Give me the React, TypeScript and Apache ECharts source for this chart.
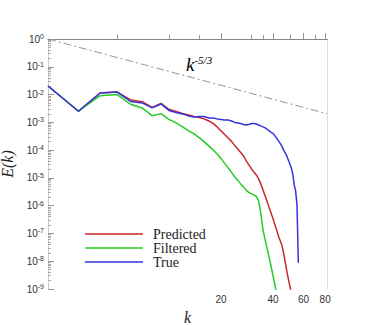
import React, { useEffect, useRef } from "react";
import * as echarts from "echarts";

const kValues = [2, 3, 4, 5, 6, 7, 8, 9, 10, 11, 12, 13, 14, 15, 16, 17, 18, 19, 20, 21, 22, 23, 24, 25, 26, 27, 28, 29, 30, 31, 32, 33, 34, 35, 36, 37, 38, 39, 40, 41, 42, 43, 44, 45, 46, 47, 48, 49, 50, 51, 52, 53, 54, 55, 56];

const trueE = [2.04e-2, 2.51e-3, 1.14e-2, 1.24e-2, 5.65e-3, 4.99e-3, 3.30e-3, 4.59e-3, 2.68e-3, 2.27e-3, 2.01e-3, 1.70e-3, 1.56e-3, 1.63e-3, 1.63e-3, 1.44e-3, 1.44e-3, 1.33e-3, 1.27e-3, 1.22e-3, 1.22e-3, 1.12e-3, 9.91e-4, 9.51e-4, 9.12e-4, 8.40e-4, 8.05e-4, 8.40e-4, 9.12e-4, 9.12e-4, 8.75e-4, 8.05e-4, 7.43e-4, 6.84e-4, 6.29e-4, 5.56e-4, 4.91e-4, 4.33e-4, 3.99e-4, 3.24e-4, 2.64e-4, 2.14e-4, 1.74e-4, 1.36e-4, 1.02e-4, 7.93e-5, 6.18e-5, 4.44e-5, 3.19e-5, 2.29e-5, 1.39e-5, 5.60e-6, 3.40e-6, 1.07e-6, 8.75e-9];

const predictedE = [2.04e-2, 2.51e-3, 1.14e-2, 1.24e-2, 6.40e-3, 5.56e-3, 3.44e-3, 4.79e-3, 2.96e-3, 2.47e-3, 2.09e-3, 1.85e-3, 1.63e-3, 1.50e-3, 1.33e-3, 1.12e-3, 9.12e-4, 6.84e-4, 4.91e-4, 3.67e-4, 2.75e-4, 2.06e-4, 1.48e-4, 1.10e-4, 8.26e-5, 6.18e-5, 4.09e-5, 2.94e-5, 2.11e-5, 1.64e-5, 1.28e-5, 9.20e-6, 6.08e-6, 3.70e-6, 2.25e-6, 1.37e-6, 8.34e-7, 5.28e-7, 3.35e-7, 2.04e-7, 1.29e-7, 7.87e-8, 5.42e-8, 3.73e-8, 2.01e-8, 9.51e-9, 4.52e-9, 2.33e-9, 1.30e-9, 7.29e-10];

const filteredE = [2.04e-2, 2.51e-3, 9.12e-3, 1.01e-2, 4.48e-3, 3.30e-3, 1.74e-3, 2.06e-3, 1.27e-3, 9.51e-4, 6.84e-4, 4.91e-4, 3.83e-4, 2.75e-4, 1.97e-4, 1.42e-4, 1.02e-4, 7.30e-5, 5.03e-5, 3.32e-5, 2.29e-5, 1.58e-5, 1.09e-5, 8.13e-6, 6.08e-6, 4.74e-6, 3.55e-6, 3.01e-6, 2.66e-6, 2.45e-6, 2.16e-6, 1.49e-6, 5.07e-7, 1.35e-7, 5.89e-8, 2.79e-8, 1.32e-8, 6.29e-9, 2.98e-9, 1.42e-9, 6.71e-10];

const refK = [2, 82];
const refE = [1, 2.05e-3];

const xMin = 2;
const xMax = 82;
const yMinExp = -9;
const yMaxExp = 0;
const xLabelValues = [20, 40, 60, 80];
const xMinorTicks = [5, 10, 15, 30, 35, 50, 70];
const yMinorMultipliers = [2, 3, 4, 5, 6, 7, 8, 9];

const lg = Math.log10;

function toPairs(ks: number[], es: number[]) {
  return es.map((e, i) => [lg(ks[i]), lg(e)]);
}

export default function App() {
  const ref = useRef<HTMLDivElement>(null);
  useEffect(() => {
    if (!ref.current) return;
    const chart = echarts.init(ref.current, undefined, { renderer: "svg" });
    const minorY: number[] = [];
    for (let p = yMinExp; p < yMaxExp; p++) {
      yMinorMultipliers.forEach((m) => minorY.push(p + lg(m)));
    }
    const gridRect = { left: 48, right: 39, top: 39, bottom: 36, outerBoundsMode: "none", containLabel: false };
    const serif = "'Liberation Serif', 'DejaVu Serif', serif";
    const sans = "'Liberation Sans', Arial, sans-serif";
    const xExtent = { min: lg(xMin), max: lg(xMax) };
    const yExtent = { min: yMinExp, max: yMaxExp };
    const option: any = {
      animation: false,
      grid: [{ ...gridRect }, { ...gridRect }],
      legend: {
        orient: "vertical",
        left: 85,
        top: 227,
        icon: "rect",
        itemWidth: 58,
        itemHeight: 1.6,
        itemGap: 0,
        padding: 0,
        data: ["Predicted", "Filtered", "True"],
        textStyle: { fontFamily: serif, fontSize: 14, color: "#222", lineHeight: 13, padding: [0, 0, 0, 5] },
      },
      xAxis: [
        {
          type: "value",
          gridIndex: 0,
          position: "bottom",
          ...xExtent,
          name: "k",
          nameLocation: "middle",
          nameGap: 21,
          nameTextStyle: { fontFamily: serif, fontStyle: "italic", fontSize: 16, lineHeight: 14, color: "#222" },
          axisLine: { show: true, lineStyle: { color: "#999", width: 1 } },
          axisTick: {
            show: true,
            inside: true,
            length: 6,
            lineStyle: { color: "#999" },
            customValues: xLabelValues.map(lg),
          },
          axisLabel: {
            show: true,
            customValues: xLabelValues.map(lg),
            formatter: (v: number) => String(Math.round(Math.pow(10, v))),
            fontFamily: sans,
            fontSize: 10,
            color: "#333",
            margin: 5,
          },
          splitLine: { show: false },
        },
        {
          type: "value",
          gridIndex: 0,
          position: "top",
          ...xExtent,
          axisLine: { show: true, lineStyle: { color: "#888", width: 1.2 } },
          axisTick: { show: false },
          axisLabel: { show: false },
          splitLine: { show: false },
        },
        {
          type: "value",
          gridIndex: 1,
          position: "bottom",
          ...xExtent,
          axisLine: { show: false },
          axisTick: {
            show: true,
            inside: true,
            length: 4,
            lineStyle: { color: "#999" },
            customValues: xMinorTicks.map(lg),
          },
          axisLabel: { show: false },
          splitLine: { show: false },
        },
      ],
      yAxis: [
        {
          type: "value",
          gridIndex: 0,
          position: "left",
          ...yExtent,
          interval: 1,
          name: "E(k)",
          nameLocation: "middle",
          nameRotate: 90,
          nameGap: 27,
          nameTextStyle: { fontFamily: serif, fontStyle: "italic", fontSize: 16, lineHeight: 16, color: "#222" },
          axisLine: { show: true, lineStyle: { color: "#ccc", width: 1 } },
          axisTick: { show: true, inside: true, length: 6, lineStyle: { color: "#999" } },
          axisLabel: {
            show: true,
            margin: 4,
            formatter: (v: number) => `{a|10}{b|${v}}`,
            rich: {
              a: { fontFamily: sans, fontSize: 10, color: "#333", lineHeight: 12 },
              b: { fontFamily: sans, fontSize: 7, color: "#333", verticalAlign: "top", lineHeight: 12, padding: [0, 0, 6, 0] },
            },
          },
          splitLine: { show: false },
        },
        {
          type: "value",
          gridIndex: 0,
          position: "right",
          ...yExtent,
          interval: 1,
          axisLine: { show: true, lineStyle: { color: "#ddd", width: 1 } },
          axisTick: { show: false },
          axisLabel: { show: false },
          splitLine: { show: false },
        },
        {
          type: "value",
          gridIndex: 1,
          position: "left",
          ...yExtent,
          interval: 1,
          axisLine: { show: false },
          axisTick: {
            show: true,
            inside: true,
            length: 3,
            lineStyle: { color: "#aaa" },
            customValues: minorY,
          },
          axisLabel: { show: false },
          splitLine: { show: false },
        },
      ],
      series: [
        {
          name: "k^-5/3",
          type: "line",
          xAxisIndex: 0,
          yAxisIndex: 0,
          data: toPairs(refK, refE),
          symbol: "none",
          lineStyle: { color: "#888", width: 0.9, type: [8, 3, 2, 3] },
          silent: true,
        },
        {
          name: "Predicted",
          type: "line",
          xAxisIndex: 0,
          yAxisIndex: 0,
          data: toPairs(kValues, predictedE),
          symbol: "none",
          lineStyle: { color: "#c82828", width: 1.5 },
          itemStyle: { color: "#c82828" },
        },
        {
          name: "Filtered",
          type: "line",
          xAxisIndex: 0,
          yAxisIndex: 0,
          data: toPairs(kValues, filteredE),
          symbol: "none",
          lineStyle: { color: "#22cc22", width: 1.5 },
          itemStyle: { color: "#22cc22" },
        },
        {
          name: "True",
          type: "line",
          xAxisIndex: 0,
          yAxisIndex: 0,
          data: toPairs(kValues, trueE),
          symbol: "none",
          lineStyle: { color: "#3535dd", width: 1.5 },
          itemStyle: { color: "#3535dd" },
        },
      ],
      graphic: [
        {
          type: "text",
          left: 186,
          top: 54,
          style: {
            text: "{k|k}{s|-5/3}",
            rich: {
              k: { fontFamily: serif, fontStyle: "italic", fontSize: 19, color: "#222", lineHeight: 20 },
              s: { fontFamily: serif, fontStyle: "italic", fontSize: 11, color: "#222", verticalAlign: "top", lineHeight: 20, padding: [0, 0, 10, 0] },
            },
          },
        },
      ],
    };
    chart.setOption(option);
    return () => chart.dispose();
  }, []);
  return (
    <div
      ref={ref}
      style={{ position: "fixed", left: 0, top: 0, width: 366, height: 325, background: "#fff" }}
    />
  );
}
